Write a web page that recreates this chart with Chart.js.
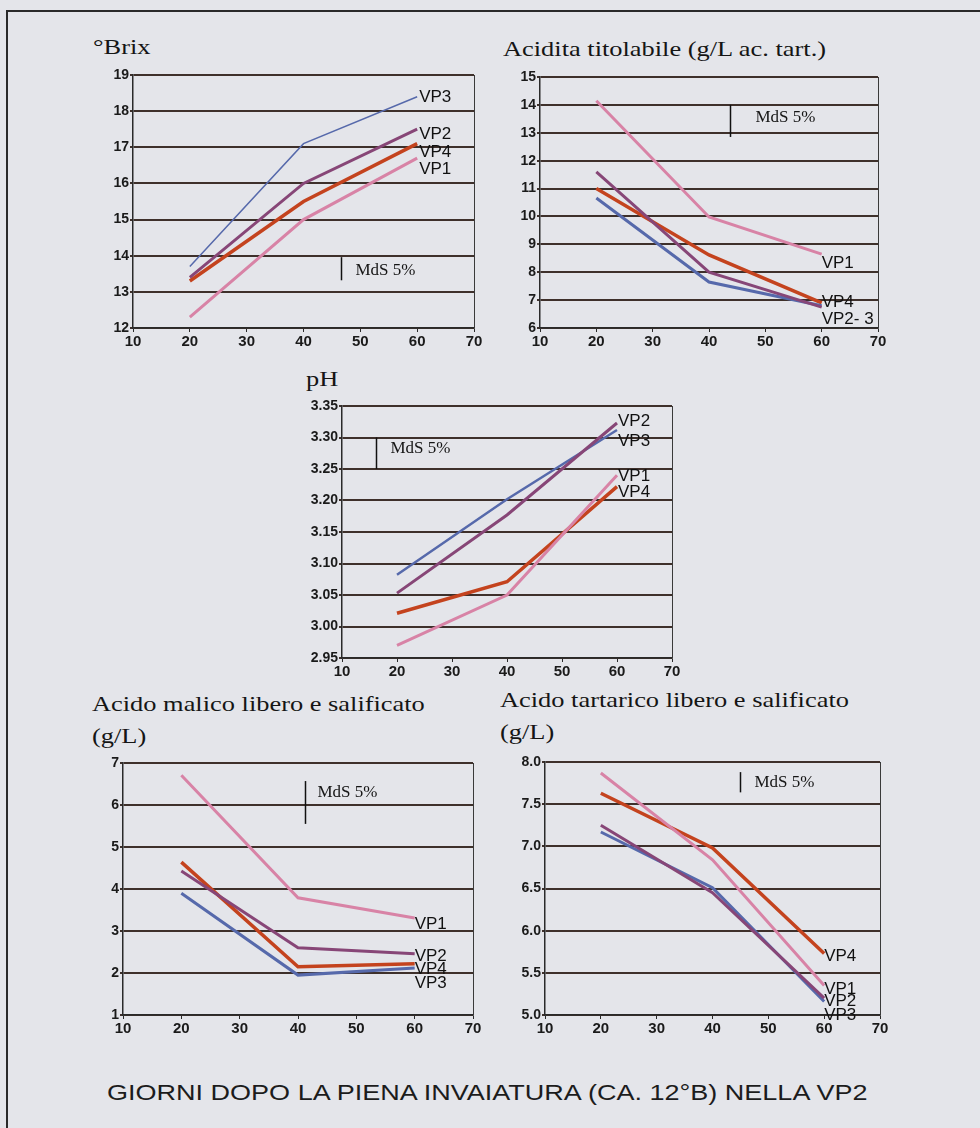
<!DOCTYPE html>
<html>
<head>
<meta charset="utf-8">
<script src="https://cdn.jsdelivr.net/npm/chart.js@4.4.1/dist/chart.umd.min.js"></script>
<style>
  html, body { margin: 0; padding: 0; }
  body { width: 980px; height: 1128px; background: #e4e5ea; position: relative; overflow: hidden; }
  #frame { position: absolute; left: 6px; top: 10px; width: 1000px; height: 1200px;
           border-left: 2px solid #2a2a2a; border-top: 2px solid #2a2a2a; }
  .t { position: absolute; font-family: "Liberation Serif", "Times New Roman", serif;
       font-size: 22px; line-height: 32px; color: #151515; white-space: nowrap;
       transform: scaleX(1.2); transform-origin: 0 0; }
  .foot { position: absolute; left: 107px; top: 1081px; font-family: "Liberation Sans", Arial, sans-serif;
          font-size: 22px; line-height: 24px; color: #1c1c1c; white-space: nowrap;
          transform: scaleX(1.228); transform-origin: 0 0; }
  canvas { position: absolute; }
</style>
</head>
<body>
<div id="frame"></div>

<div class="t" style="left:93px;top:31px">°Brix</div>
<div class="t" style="left:503px;top:33px">Acidita titolabile (g/L ac. tart.)</div>
<div class="t" style="left:306px;top:363px">pH</div>
<div class="t" style="left:92px;top:688px">Acido malico libero e salificato<br>(g/L)</div>
<div class="t" style="left:500px;top:684px">Acido tartarico libero e salificato<br>(g/L)</div>
<div class="foot">GIORNI DOPO LA PIENA INVAIATURA (CA. 12°B) NELLA VP2</div>

<canvas id="brix"></canvas>
<canvas id="acid"></canvas>
<canvas id="ph"></canvas>
<canvas id="malic"></canvas>
<canvas id="tart"></canvas>

<script>
// giorni dopo l'invaiatura
var days = [20, 40, 60];
var seriesNames = ['VP1', 'VP2', 'VP3', 'VP4'];
var xTicks = [10, 20, 30, 40, 50, 60, 70];

// values per series, in seriesNames order (VP1..VP4), one per day
var brixValues  = [[12.3, 15.0, 16.7], [13.4, 16.0, 17.5], [13.7, 17.1, 18.4], [13.3, 15.5, 17.1]];
var acidValues  = [[14.15, 9.98, 8.65], [11.6, 8.0, 6.75], [10.66, 7.65, 6.8], [11.0, 8.62, 6.9]];
var phValues    = [[2.97, 3.05, 3.24], [3.053, 3.177, 3.323], [3.082, 3.202, 3.312], [3.021, 3.071, 3.222]];
var malicValues = [[6.71, 3.79, 3.31], [4.43, 2.6, 2.46], [3.9, 1.95, 2.12], [4.64, 2.15, 2.22]];
var tartValues  = [[7.87, 6.84, 5.35], [7.25, 6.45, 5.2], [7.17, 6.51, 5.16], [7.63, 6.98, 5.73]];

// y tick labels
var brixTicks  = [12, 13, 14, 15, 16, 17, 18, 19];
var acidTicks  = [6, 7, 8, 9, 10, 11, 12, 13, 14, 15];
var phTicks    = [2.95, 3.00, 3.05, 3.10, 3.15, 3.20, 3.25, 3.30, 3.35];
var malicTicks = [1, 2, 3, 4, 5, 6, 7];
var tartTicks  = [5.0, 5.5, 6.0, 6.5, 7.0, 7.5, 8.0];

// MdS 5% (minima differenza significativa): [giorno, da, a]
var brixMds  = [46.6, 13.32, 13.96];
var acidMds  = [43.7, 12.85, 14.0];
var phMds    = [16.2, 3.25, 3.30];
var malicMds = [41.2, 5.55, 6.57];
var tartMds  = [44.9, 7.64, 7.88];

var colors = ['#d883a6', '#874677', '#5669ab', '#c4431e'];

// layout of each panel: plot box [left, top, right, bottom] in page px
var panels = [
    { id: 'brix', box: [133, 75, 474, 328], values: brixValues, ticks: brixTicks, dec: 0, mds: brixMds,
      mdsText: [14, 13.6], widths: [3, 3, 1.5, 3.5],
      labels: [['VP3', 18.42], ['VP2', 17.39], ['VP4', 16.9], ['VP1', 16.42]], labelDx: 2 },
    { id: 'acid', box: [540, 77, 878, 328], values: acidValues, ticks: acidTicks, dec: 0, mds: acidMds,
      mdsText: [25, 13.53], widths: [3, 3, 3, 3.5],
      labels: [['VP1', 8.37], ['VP4', 6.94], ['VP2- 3', 6.36]], labelDx: 0 },
    { id: 'ph', box: [342, 406, 672, 658], values: phValues, ticks: phTicks, dec: 2, mds: phMds,
      mdsText: [14, 3.282], widths: [3, 3, 2.5, 3.5],
      labels: [['VP2', 3.328], ['VP3', 3.296], ['VP1', 3.24], ['VP4', 3.215]], labelDx: 1 },
    { id: 'malic', box: [123, 763, 473, 1015], values: malicValues, ticks: malicTicks, dec: 0, mds: malicMds,
      mdsText: [12, 6.29], widths: [3, 3, 3, 3.5],
      labels: [['VP1', 3.19], ['VP2', 2.43], ['VP4', 2.12], ['VP3', 1.79]], labelDx: 0 },
    { id: 'tart', box: [545, 762, 880, 1015], values: tartValues, ticks: tartTicks, dec: 1, mds: tartMds,
      mdsText: [14, 7.76], widths: [3, 3, 3, 3.5],
      labels: [['VP4', 5.71], ['VP1', 5.32], ['VP2', 5.18], ['VP3', 5.01]], labelDx: 0 }
];

var PAD_L = 45, PAD_T = 12, PAD_R = 75, PAD_B = 30;
var gridColor = '#3e302b';
var tickFont = '"Liberation Sans", Arial, sans-serif';

function drawPanel(p) {
    var cv = document.getElementById(p.id);
    var w = p.box[2] - p.box[0] + PAD_L + PAD_R;
    var h = p.box[3] - p.box[1] + PAD_T + PAD_B;
    cv.width = w; cv.height = h;
    cv.style.left = (p.box[0] - PAD_L) + 'px';
    cv.style.top = (p.box[1] - PAD_T) + 'px';

    var datasets = [];
    for (var i = 0; i < seriesNames.length; i++) {
        var pts = [];
        for (var j = 0; j < days.length; j++) pts.push({ x: days[j], y: p.values[i][j] });
        datasets.push({
            label: seriesNames[i],
            data: pts,
            borderColor: colors[i],
            borderWidth: p.widths[i],
            pointRadius: 0,
            tension: 0,
            fill: false
        });
    }

    // frame, MdS bar, end labels
    var extras = {
        id: 'extras',
        afterDatasetsDraw: function(chart) {
            var ctx = chart.ctx, a = chart.chartArea;
            var xs = chart.scales.x, ys = chart.scales.y;
            ctx.save();
            ctx.strokeStyle = '#3a3a3a';
            ctx.lineWidth = 1;
            ctx.beginPath();
            ctx.moveTo(a.right + 0.5, a.top);
            ctx.lineTo(a.right + 0.5, a.bottom);
            ctx.stroke();

            // MdS 5%
            var mx = Math.round(xs.getPixelForValue(p.mds[0])) + 0.5;
            ctx.strokeStyle = '#111';
            ctx.lineWidth = 1.5;
            ctx.beginPath();
            ctx.moveTo(mx, ys.getPixelForValue(p.mds[2]));
            ctx.lineTo(mx, ys.getPixelForValue(p.mds[1]));
            ctx.stroke();
            ctx.fillStyle = '#151515';
            ctx.font = '17px "Liberation Serif", "Times New Roman", serif';
            ctx.textBaseline = 'middle';
            ctx.textAlign = 'left';
            ctx.fillText('MdS 5%', mx + p.mdsText[0], ys.getPixelForValue(p.mdsText[1]));

            // series names at the end of the lines
            ctx.font = '17px "Liberation Sans", Arial, sans-serif';
            ctx.fillStyle = '#111';
            var lx = xs.getPixelForValue(days[days.length - 1]) + p.labelDx;
            p.labels.forEach(function(l) {
                ctx.fillText(l[0], lx, ys.getPixelForValue(l[1]) + 1);
            });
            ctx.restore();
        }
    };

    new Chart(cv.getContext('2d'), {
        type: 'line',
        data: { datasets: datasets },
        options: {
            responsive: false,
            animation: false,
            events: [],
            layout: { padding: { left: 0, top: PAD_T, right: PAD_R, bottom: 0 } },
            plugins: { legend: { display: false }, tooltip: { enabled: false } },
            scales: {
                x: {
                    type: 'linear',
                    min: xTicks[0],
                    max: xTicks[xTicks.length - 1],
                    afterBuildTicks: function(s) { s.ticks = xTicks.map(function(v) { return { value: v }; }); },
                    afterFit: function(s) { s.height = PAD_B; },
                    grid: { drawOnChartArea: false, drawTicks: true, tickLength: 4, color: '#2a2a2a', lineWidth: 1 },
                    border: { display: true, color: '#2a2a2a', width: 1.5 },
                    ticks: { padding: 1, color: '#1a1a1a', font: { family: tickFont, size: 15, weight: 'bold' } }
                },
                y: {
                    type: 'linear',
                    min: p.ticks[0],
                    max: p.ticks[p.ticks.length - 1],
                    afterBuildTicks: function(s) { s.ticks = p.ticks.map(function(v) { return { value: v }; }); },
                    afterFit: function(s) { s.width = PAD_L; },
                    grid: { drawOnChartArea: true, drawTicks: true, tickLength: 3, color: gridColor, lineWidth: 2 },
                    border: { display: true, color: '#2a2a2a', width: 1.5 },
                    ticks: {
                        padding: 1, color: '#1a1a1a',
                        font: { family: tickFont, size: 14, weight: 'bold' },
                        callback: function(v) { return Number(v).toFixed(p.dec); }
                    }
                }
            }
        },
        plugins: [extras]
    });
}

panels.forEach(drawPanel);
</script>
</body>
</html>
